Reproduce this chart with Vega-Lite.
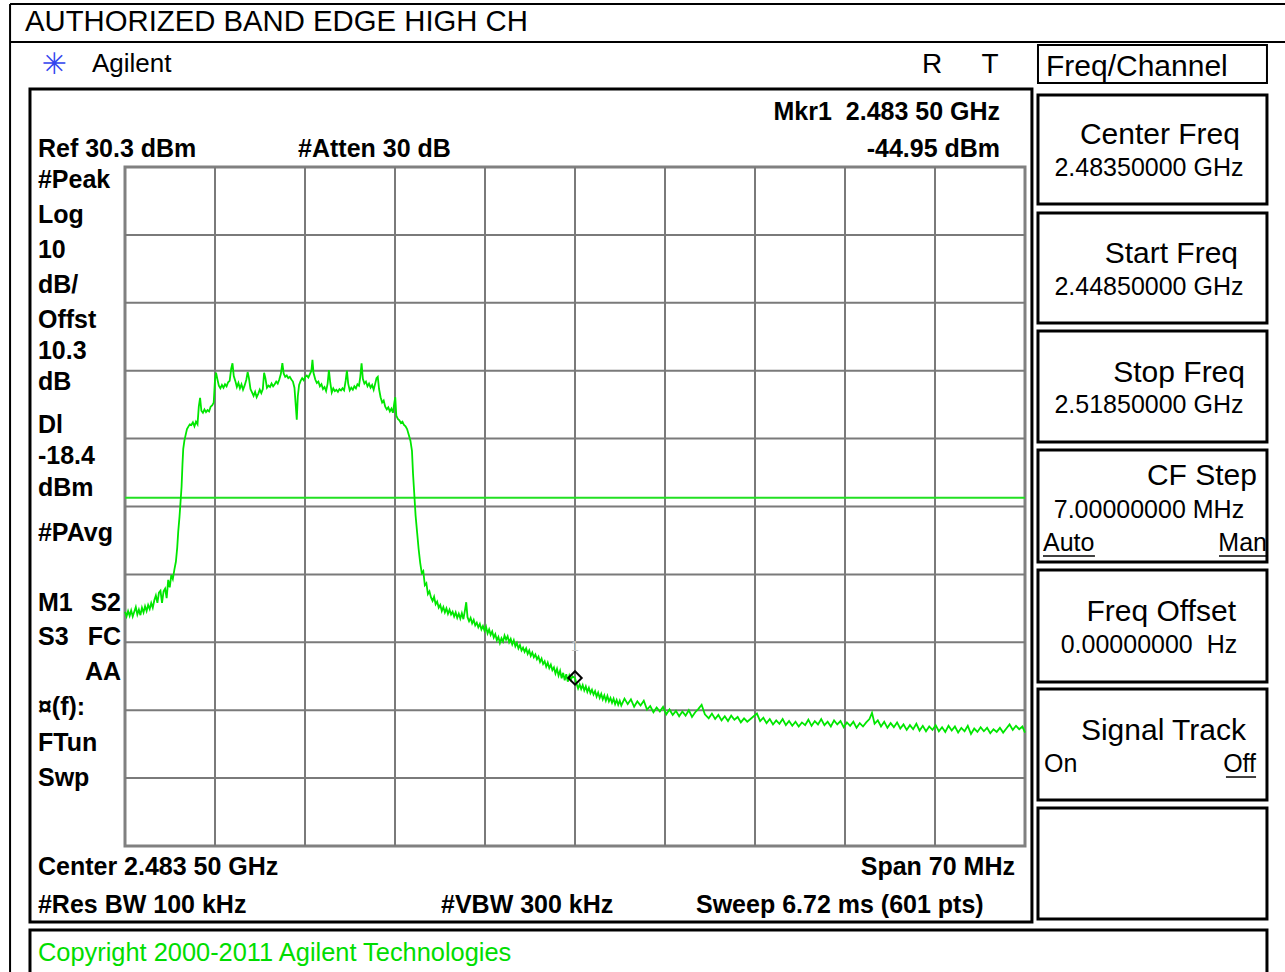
{
  "$schema": "https://vega.github.io/schema/vega-lite/v6.json",
  "width": 900,
  "height": 679,
  "autosize": {"type": "none"},
  "padding": {"left": 125, "top": 167, "right": 260, "bottom": 126},
  "background": "white",
  "config": {"font": "Liberation Sans", "view": {"stroke": "#808080", "strokeWidth": 3}},
  "datasets": {
    "trace": [
      {"freq_mhz": 2448.5, "level_dbm": -35.2}, {"freq_mhz": 2448.62, "level_dbm": -35.9}, {"freq_mhz": 2448.74, "level_dbm": -35.1}, {"freq_mhz": 2448.86, "level_dbm": -35.8},
      {"freq_mhz": 2448.98, "level_dbm": -35.0}, {"freq_mhz": 2449.1, "level_dbm": -35.9}, {"freq_mhz": 2449.22, "level_dbm": -35.2}, {"freq_mhz": 2449.34, "level_dbm": -34.5},
      {"freq_mhz": 2449.46, "level_dbm": -35.6}, {"freq_mhz": 2449.58, "level_dbm": -34.9}, {"freq_mhz": 2449.7, "level_dbm": -35.7}, {"freq_mhz": 2449.82, "level_dbm": -34.6},
      {"freq_mhz": 2449.94, "level_dbm": -35.3}, {"freq_mhz": 2450.06, "level_dbm": -34.4}, {"freq_mhz": 2450.18, "level_dbm": -35.1}, {"freq_mhz": 2450.3, "level_dbm": -34.2},
      {"freq_mhz": 2450.42, "level_dbm": -34.8}, {"freq_mhz": 2450.54, "level_dbm": -33.9}, {"freq_mhz": 2450.66, "level_dbm": -34.6}, {"freq_mhz": 2450.78, "level_dbm": -33.5},
      {"freq_mhz": 2450.9, "level_dbm": -32.8}, {"freq_mhz": 2451.02, "level_dbm": -33.9}, {"freq_mhz": 2451.14, "level_dbm": -32.4}, {"freq_mhz": 2451.26, "level_dbm": -32.1},
      {"freq_mhz": 2451.38, "level_dbm": -33.9}, {"freq_mhz": 2451.5, "level_dbm": -32.2}, {"freq_mhz": 2451.62, "level_dbm": -31.8}, {"freq_mhz": 2451.74, "level_dbm": -33.2},
      {"freq_mhz": 2451.86, "level_dbm": -30.5}, {"freq_mhz": 2451.98, "level_dbm": -31.6}, {"freq_mhz": 2452.1, "level_dbm": -29.8}, {"freq_mhz": 2452.22, "level_dbm": -30.4},
      {"freq_mhz": 2452.34, "level_dbm": -29.0}, {"freq_mhz": 2452.46, "level_dbm": -27.8}, {"freq_mhz": 2452.56, "level_dbm": -25.8}, {"freq_mhz": 2452.64, "level_dbm": -23.4},
      {"freq_mhz": 2452.74, "level_dbm": -21.2}, {"freq_mhz": 2452.82, "level_dbm": -19.0}, {"freq_mhz": 2452.9, "level_dbm": -16.8}, {"freq_mhz": 2452.97, "level_dbm": -13.5},
      {"freq_mhz": 2453.03, "level_dbm": -11.2}, {"freq_mhz": 2453.12, "level_dbm": -10.0}, {"freq_mhz": 2453.2, "level_dbm": -9.3}, {"freq_mhz": 2453.32, "level_dbm": -8.3},
      {"freq_mhz": 2453.44, "level_dbm": -7.9}, {"freq_mhz": 2453.54, "level_dbm": -7.6}, {"freq_mhz": 2453.66, "level_dbm": -7.7}, {"freq_mhz": 2453.78, "level_dbm": -7.3},
      {"freq_mhz": 2453.9, "level_dbm": -7.9}, {"freq_mhz": 2454.02, "level_dbm": -7.2}, {"freq_mhz": 2454.14, "level_dbm": -7.6}, {"freq_mhz": 2454.24, "level_dbm": -5.0},
      {"freq_mhz": 2454.34, "level_dbm": -3.7}, {"freq_mhz": 2454.44, "level_dbm": -5.6}, {"freq_mhz": 2454.56, "level_dbm": -5.9}, {"freq_mhz": 2454.68, "level_dbm": -5.4},
      {"freq_mhz": 2454.8, "level_dbm": -5.8}, {"freq_mhz": 2454.92, "level_dbm": -5.5}, {"freq_mhz": 2455.04, "level_dbm": -5.7}, {"freq_mhz": 2455.16, "level_dbm": -5.0},
      {"freq_mhz": 2455.28, "level_dbm": -4.8}, {"freq_mhz": 2455.4, "level_dbm": -4.4}, {"freq_mhz": 2455.5, "level_dbm": -1.0}, {"freq_mhz": 2455.58, "level_dbm": 0.0},
      {"freq_mhz": 2455.68, "level_dbm": -0.9}, {"freq_mhz": 2455.8, "level_dbm": -1.9}, {"freq_mhz": 2455.92, "level_dbm": -2.3}, {"freq_mhz": 2456.04, "level_dbm": -1.8},
      {"freq_mhz": 2456.16, "level_dbm": -2.2}, {"freq_mhz": 2456.28, "level_dbm": -1.7}, {"freq_mhz": 2456.4, "level_dbm": -2.0}, {"freq_mhz": 2456.52, "level_dbm": -1.4},
      {"freq_mhz": 2456.64, "level_dbm": -1.2}, {"freq_mhz": 2456.76, "level_dbm": 0.6}, {"freq_mhz": 2456.86, "level_dbm": 1.4}, {"freq_mhz": 2456.96, "level_dbm": -0.5},
      {"freq_mhz": 2457.08, "level_dbm": -1.2}, {"freq_mhz": 2457.2, "level_dbm": -2.1}, {"freq_mhz": 2457.32, "level_dbm": -1.5}, {"freq_mhz": 2457.44, "level_dbm": -2.3},
      {"freq_mhz": 2457.56, "level_dbm": -1.7}, {"freq_mhz": 2457.68, "level_dbm": -2.5}, {"freq_mhz": 2457.8, "level_dbm": -1.9}, {"freq_mhz": 2457.94, "level_dbm": -1.0},
      {"freq_mhz": 2458.04, "level_dbm": 0.1}, {"freq_mhz": 2458.14, "level_dbm": -0.8}, {"freq_mhz": 2458.26, "level_dbm": -2.4}, {"freq_mhz": 2458.38, "level_dbm": -2.9},
      {"freq_mhz": 2458.5, "level_dbm": -3.4}, {"freq_mhz": 2458.62, "level_dbm": -2.8}, {"freq_mhz": 2458.74, "level_dbm": -3.6}, {"freq_mhz": 2458.86, "level_dbm": -3.1},
      {"freq_mhz": 2458.98, "level_dbm": -2.5}, {"freq_mhz": 2459.1, "level_dbm": -3.0}, {"freq_mhz": 2459.22, "level_dbm": -2.4}, {"freq_mhz": 2459.32, "level_dbm": 0.0},
      {"freq_mhz": 2459.42, "level_dbm": -0.8}, {"freq_mhz": 2459.54, "level_dbm": -2.2}, {"freq_mhz": 2459.66, "level_dbm": -1.9}, {"freq_mhz": 2459.78, "level_dbm": -2.1},
      {"freq_mhz": 2459.9, "level_dbm": -1.6}, {"freq_mhz": 2460.02, "level_dbm": -2.0}, {"freq_mhz": 2460.14, "level_dbm": -1.7}, {"freq_mhz": 2460.26, "level_dbm": -1.3},
      {"freq_mhz": 2460.38, "level_dbm": -1.6}, {"freq_mhz": 2460.5, "level_dbm": -1.0}, {"freq_mhz": 2460.62, "level_dbm": -0.2}, {"freq_mhz": 2460.74, "level_dbm": 1.4},
      {"freq_mhz": 2460.84, "level_dbm": -0.1}, {"freq_mhz": 2460.96, "level_dbm": -0.6}, {"freq_mhz": 2461.08, "level_dbm": -0.4}, {"freq_mhz": 2461.2, "level_dbm": -0.8},
      {"freq_mhz": 2461.32, "level_dbm": -0.6}, {"freq_mhz": 2461.44, "level_dbm": -1.0}, {"freq_mhz": 2461.56, "level_dbm": -1.3}, {"freq_mhz": 2461.68, "level_dbm": -2.2},
      {"freq_mhz": 2461.78, "level_dbm": -4.8}, {"freq_mhz": 2461.86, "level_dbm": -6.9}, {"freq_mhz": 2461.94, "level_dbm": -3.5}, {"freq_mhz": 2462.04, "level_dbm": -1.8},
      {"freq_mhz": 2462.16, "level_dbm": -1.2}, {"freq_mhz": 2462.28, "level_dbm": -0.8}, {"freq_mhz": 2462.4, "level_dbm": -1.1}, {"freq_mhz": 2462.52, "level_dbm": -0.6},
      {"freq_mhz": 2462.64, "level_dbm": -0.4}, {"freq_mhz": 2462.76, "level_dbm": -0.7}, {"freq_mhz": 2462.88, "level_dbm": -0.2}, {"freq_mhz": 2463.0, "level_dbm": 0.3},
      {"freq_mhz": 2463.08, "level_dbm": 1.9}, {"freq_mhz": 2463.16, "level_dbm": 0.0}, {"freq_mhz": 2463.3, "level_dbm": -1.0}, {"freq_mhz": 2463.42, "level_dbm": -1.5},
      {"freq_mhz": 2463.54, "level_dbm": -1.3}, {"freq_mhz": 2463.66, "level_dbm": -2.0}, {"freq_mhz": 2463.78, "level_dbm": -1.7}, {"freq_mhz": 2463.9, "level_dbm": -2.4},
      {"freq_mhz": 2464.02, "level_dbm": -2.1}, {"freq_mhz": 2464.14, "level_dbm": -2.7}, {"freq_mhz": 2464.26, "level_dbm": -1.6}, {"freq_mhz": 2464.36, "level_dbm": 0.4},
      {"freq_mhz": 2464.46, "level_dbm": -1.4}, {"freq_mhz": 2464.58, "level_dbm": -2.9}, {"freq_mhz": 2464.7, "level_dbm": -2.3}, {"freq_mhz": 2464.82, "level_dbm": -2.7},
      {"freq_mhz": 2464.94, "level_dbm": -2.5}, {"freq_mhz": 2465.06, "level_dbm": -2.8}, {"freq_mhz": 2465.18, "level_dbm": -2.4}, {"freq_mhz": 2465.3, "level_dbm": -2.6},
      {"freq_mhz": 2465.42, "level_dbm": -2.3}, {"freq_mhz": 2465.54, "level_dbm": -2.6}, {"freq_mhz": 2465.66, "level_dbm": -1.2}, {"freq_mhz": 2465.76, "level_dbm": 0.3},
      {"freq_mhz": 2465.86, "level_dbm": -1.6}, {"freq_mhz": 2465.98, "level_dbm": -2.6}, {"freq_mhz": 2466.1, "level_dbm": -2.2}, {"freq_mhz": 2466.22, "level_dbm": -2.5},
      {"freq_mhz": 2466.34, "level_dbm": -2.0}, {"freq_mhz": 2466.46, "level_dbm": -2.3}, {"freq_mhz": 2466.58, "level_dbm": -1.7}, {"freq_mhz": 2466.7, "level_dbm": -1.9},
      {"freq_mhz": 2466.8, "level_dbm": -0.6}, {"freq_mhz": 2466.9, "level_dbm": 1.4}, {"freq_mhz": 2467.0, "level_dbm": -0.9}, {"freq_mhz": 2467.12, "level_dbm": -1.6},
      {"freq_mhz": 2467.24, "level_dbm": -1.3}, {"freq_mhz": 2467.36, "level_dbm": -2.0}, {"freq_mhz": 2467.48, "level_dbm": -1.6}, {"freq_mhz": 2467.6, "level_dbm": -2.2},
      {"freq_mhz": 2467.72, "level_dbm": -1.8}, {"freq_mhz": 2467.84, "level_dbm": -2.5}, {"freq_mhz": 2467.96, "level_dbm": -1.6}, {"freq_mhz": 2468.06, "level_dbm": -0.8},
      {"freq_mhz": 2468.16, "level_dbm": -0.6}, {"freq_mhz": 2468.26, "level_dbm": -2.4}, {"freq_mhz": 2468.38, "level_dbm": -3.6}, {"freq_mhz": 2468.5, "level_dbm": -4.4},
      {"freq_mhz": 2468.62, "level_dbm": -4.1}, {"freq_mhz": 2468.74, "level_dbm": -5.0}, {"freq_mhz": 2468.86, "level_dbm": -5.4}, {"freq_mhz": 2468.98, "level_dbm": -5.1},
      {"freq_mhz": 2469.1, "level_dbm": -5.7}, {"freq_mhz": 2469.22, "level_dbm": -5.3}, {"freq_mhz": 2469.34, "level_dbm": -5.9}, {"freq_mhz": 2469.44, "level_dbm": -4.5},
      {"freq_mhz": 2469.52, "level_dbm": -3.6}, {"freq_mhz": 2469.6, "level_dbm": -6.3}, {"freq_mhz": 2469.72, "level_dbm": -6.8}, {"freq_mhz": 2469.84, "level_dbm": -7.0},
      {"freq_mhz": 2469.96, "level_dbm": -7.4}, {"freq_mhz": 2470.08, "level_dbm": -7.2}, {"freq_mhz": 2470.2, "level_dbm": -7.7}, {"freq_mhz": 2470.32, "level_dbm": -7.9},
      {"freq_mhz": 2470.44, "level_dbm": -8.3}, {"freq_mhz": 2470.58, "level_dbm": -9.2}, {"freq_mhz": 2470.7, "level_dbm": -10.0}, {"freq_mhz": 2470.82, "level_dbm": -11.5},
      {"freq_mhz": 2470.9, "level_dbm": -14.8}, {"freq_mhz": 2471.02, "level_dbm": -18.5}, {"freq_mhz": 2471.1, "level_dbm": -21.0}, {"freq_mhz": 2471.22, "level_dbm": -23.5},
      {"freq_mhz": 2471.34, "level_dbm": -26.0}, {"freq_mhz": 2471.46, "level_dbm": -28.0}, {"freq_mhz": 2471.58, "level_dbm": -29.5}, {"freq_mhz": 2471.7, "level_dbm": -29.2},
      {"freq_mhz": 2471.82, "level_dbm": -31.3}, {"freq_mhz": 2471.94, "level_dbm": -31.0}, {"freq_mhz": 2472.06, "level_dbm": -32.6}, {"freq_mhz": 2472.18, "level_dbm": -32.2},
      {"freq_mhz": 2472.3, "level_dbm": -33.1}, {"freq_mhz": 2472.42, "level_dbm": -33.6}, {"freq_mhz": 2472.54, "level_dbm": -33.0}, {"freq_mhz": 2472.66, "level_dbm": -34.1},
      {"freq_mhz": 2472.78, "level_dbm": -33.7}, {"freq_mhz": 2472.9, "level_dbm": -34.6}, {"freq_mhz": 2473.02, "level_dbm": -34.2}, {"freq_mhz": 2473.14, "level_dbm": -35.1},
      {"freq_mhz": 2473.26, "level_dbm": -34.5}, {"freq_mhz": 2473.38, "level_dbm": -35.3}, {"freq_mhz": 2473.5, "level_dbm": -34.7}, {"freq_mhz": 2473.62, "level_dbm": -35.5},
      {"freq_mhz": 2473.74, "level_dbm": -34.9}, {"freq_mhz": 2473.86, "level_dbm": -35.6}, {"freq_mhz": 2473.98, "level_dbm": -35.2}, {"freq_mhz": 2474.1, "level_dbm": -35.9},
      {"freq_mhz": 2474.22, "level_dbm": -35.3}, {"freq_mhz": 2474.34, "level_dbm": -36.1}, {"freq_mhz": 2474.46, "level_dbm": -35.5}, {"freq_mhz": 2474.58, "level_dbm": -36.2},
      {"freq_mhz": 2474.7, "level_dbm": -35.4}, {"freq_mhz": 2474.82, "level_dbm": -36.3}, {"freq_mhz": 2474.94, "level_dbm": -35.0}, {"freq_mhz": 2475.04, "level_dbm": -33.8},
      {"freq_mhz": 2475.14, "level_dbm": -36.0}, {"freq_mhz": 2475.26, "level_dbm": -36.6}, {"freq_mhz": 2475.38, "level_dbm": -36.1}, {"freq_mhz": 2475.5, "level_dbm": -36.9},
      {"freq_mhz": 2475.62, "level_dbm": -36.4}, {"freq_mhz": 2475.74, "level_dbm": -37.2}, {"freq_mhz": 2475.86, "level_dbm": -36.8}, {"freq_mhz": 2475.98, "level_dbm": -37.5},
      {"freq_mhz": 2476.1, "level_dbm": -37.0}, {"freq_mhz": 2476.22, "level_dbm": -37.8}, {"freq_mhz": 2476.34, "level_dbm": -37.3}, {"freq_mhz": 2476.46, "level_dbm": -38.0},
      {"freq_mhz": 2476.58, "level_dbm": -37.4}, {"freq_mhz": 2476.7, "level_dbm": -38.4}, {"freq_mhz": 2476.82, "level_dbm": -37.8}, {"freq_mhz": 2476.94, "level_dbm": -38.6},
      {"freq_mhz": 2477.06, "level_dbm": -38.1}, {"freq_mhz": 2477.18, "level_dbm": -39.0}, {"freq_mhz": 2477.3, "level_dbm": -38.5}, {"freq_mhz": 2477.42, "level_dbm": -39.4},
      {"freq_mhz": 2477.54, "level_dbm": -38.9}, {"freq_mhz": 2477.66, "level_dbm": -39.8}, {"freq_mhz": 2477.78, "level_dbm": -39.1}, {"freq_mhz": 2477.9, "level_dbm": -39.6},
      {"freq_mhz": 2478.02, "level_dbm": -38.7}, {"freq_mhz": 2478.14, "level_dbm": -39.3}, {"freq_mhz": 2478.26, "level_dbm": -38.8}, {"freq_mhz": 2478.38, "level_dbm": -39.7},
      {"freq_mhz": 2478.5, "level_dbm": -39.2}, {"freq_mhz": 2478.62, "level_dbm": -40.0}, {"freq_mhz": 2478.74, "level_dbm": -39.4}, {"freq_mhz": 2478.86, "level_dbm": -40.3},
      {"freq_mhz": 2478.98, "level_dbm": -39.8}, {"freq_mhz": 2479.1, "level_dbm": -40.6}, {"freq_mhz": 2479.22, "level_dbm": -40.1}, {"freq_mhz": 2479.34, "level_dbm": -40.9},
      {"freq_mhz": 2479.46, "level_dbm": -40.5}, {"freq_mhz": 2479.58, "level_dbm": -41.1}, {"freq_mhz": 2479.7, "level_dbm": -40.6}, {"freq_mhz": 2479.82, "level_dbm": -41.4},
      {"freq_mhz": 2479.94, "level_dbm": -40.9}, {"freq_mhz": 2480.06, "level_dbm": -41.7}, {"freq_mhz": 2480.18, "level_dbm": -41.2}, {"freq_mhz": 2480.3, "level_dbm": -41.9},
      {"freq_mhz": 2480.42, "level_dbm": -41.5}, {"freq_mhz": 2480.54, "level_dbm": -42.2}, {"freq_mhz": 2480.66, "level_dbm": -41.8}, {"freq_mhz": 2480.78, "level_dbm": -42.6},
      {"freq_mhz": 2480.9, "level_dbm": -42.1}, {"freq_mhz": 2481.02, "level_dbm": -42.9}, {"freq_mhz": 2481.14, "level_dbm": -42.5}, {"freq_mhz": 2481.26, "level_dbm": -43.3},
      {"freq_mhz": 2481.38, "level_dbm": -42.7}, {"freq_mhz": 2481.5, "level_dbm": -43.5}, {"freq_mhz": 2481.62, "level_dbm": -43.0}, {"freq_mhz": 2481.74, "level_dbm": -43.8},
      {"freq_mhz": 2481.86, "level_dbm": -43.4}, {"freq_mhz": 2481.98, "level_dbm": -44.3}, {"freq_mhz": 2482.1, "level_dbm": -43.6}, {"freq_mhz": 2482.22, "level_dbm": -44.6},
      {"freq_mhz": 2482.34, "level_dbm": -43.9}, {"freq_mhz": 2482.46, "level_dbm": -45.0}, {"freq_mhz": 2482.58, "level_dbm": -44.2}, {"freq_mhz": 2482.7, "level_dbm": -45.3},
      {"freq_mhz": 2482.82, "level_dbm": -44.4}, {"freq_mhz": 2482.94, "level_dbm": -45.5}, {"freq_mhz": 2483.06, "level_dbm": -44.6}, {"freq_mhz": 2483.18, "level_dbm": -45.2},
      {"freq_mhz": 2483.3, "level_dbm": -44.7}, {"freq_mhz": 2483.5, "level_dbm": -44.95}, {"freq_mhz": 2483.62, "level_dbm": -45.8}, {"freq_mhz": 2483.74, "level_dbm": -46.5},
      {"freq_mhz": 2483.86, "level_dbm": -45.9}, {"freq_mhz": 2483.98, "level_dbm": -46.6}, {"freq_mhz": 2484.1, "level_dbm": -46.0}, {"freq_mhz": 2484.22, "level_dbm": -46.8},
      {"freq_mhz": 2484.34, "level_dbm": -46.2}, {"freq_mhz": 2484.46, "level_dbm": -47.0}, {"freq_mhz": 2484.58, "level_dbm": -46.4}, {"freq_mhz": 2484.7, "level_dbm": -47.2},
      {"freq_mhz": 2484.82, "level_dbm": -46.7}, {"freq_mhz": 2484.94, "level_dbm": -47.4}, {"freq_mhz": 2485.06, "level_dbm": -46.9}, {"freq_mhz": 2485.18, "level_dbm": -47.7},
      {"freq_mhz": 2485.3, "level_dbm": -47.1}, {"freq_mhz": 2485.42, "level_dbm": -47.9}, {"freq_mhz": 2485.54, "level_dbm": -47.3}, {"freq_mhz": 2485.66, "level_dbm": -48.1},
      {"freq_mhz": 2485.78, "level_dbm": -47.5}, {"freq_mhz": 2485.9, "level_dbm": -48.3}, {"freq_mhz": 2486.02, "level_dbm": -47.6}, {"freq_mhz": 2486.14, "level_dbm": -48.4},
      {"freq_mhz": 2486.26, "level_dbm": -47.9}, {"freq_mhz": 2486.38, "level_dbm": -48.6}, {"freq_mhz": 2486.5, "level_dbm": -48.0}, {"freq_mhz": 2486.62, "level_dbm": -48.8},
      {"freq_mhz": 2486.74, "level_dbm": -48.2}, {"freq_mhz": 2486.86, "level_dbm": -48.9}, {"freq_mhz": 2486.98, "level_dbm": -48.3}, {"freq_mhz": 2487.1, "level_dbm": -49.0},
      {"freq_mhz": 2487.35, "level_dbm": -48.0}, {"freq_mhz": 2487.6, "level_dbm": -48.8}, {"freq_mhz": 2487.85, "level_dbm": -48.1}, {"freq_mhz": 2488.1, "level_dbm": -49.2},
      {"freq_mhz": 2488.35, "level_dbm": -48.4}, {"freq_mhz": 2488.6, "level_dbm": -49.0}, {"freq_mhz": 2488.85, "level_dbm": -48.3}, {"freq_mhz": 2489.1, "level_dbm": -49.6},
      {"freq_mhz": 2489.35, "level_dbm": -49.1}, {"freq_mhz": 2489.6, "level_dbm": -50.0}, {"freq_mhz": 2489.85, "level_dbm": -49.3}, {"freq_mhz": 2490.1, "level_dbm": -49.9},
      {"freq_mhz": 2490.35, "level_dbm": -49.2}, {"freq_mhz": 2490.6, "level_dbm": -50.3}, {"freq_mhz": 2490.85, "level_dbm": -49.6}, {"freq_mhz": 2491.1, "level_dbm": -50.4},
      {"freq_mhz": 2491.35, "level_dbm": -49.8}, {"freq_mhz": 2491.6, "level_dbm": -50.6}, {"freq_mhz": 2491.85, "level_dbm": -49.9}, {"freq_mhz": 2492.1, "level_dbm": -50.5},
      {"freq_mhz": 2492.35, "level_dbm": -49.7}, {"freq_mhz": 2492.6, "level_dbm": -50.7}, {"freq_mhz": 2492.85, "level_dbm": -50.0}, {"freq_mhz": 2493.1, "level_dbm": -49.5},
      {"freq_mhz": 2493.35, "level_dbm": -48.9}, {"freq_mhz": 2493.6, "level_dbm": -50.3}, {"freq_mhz": 2493.9, "level_dbm": -50.9}, {"freq_mhz": 2494.15, "level_dbm": -50.2},
      {"freq_mhz": 2494.4, "level_dbm": -51.0}, {"freq_mhz": 2494.65, "level_dbm": -50.4}, {"freq_mhz": 2494.9, "level_dbm": -51.2}, {"freq_mhz": 2495.15, "level_dbm": -50.6},
      {"freq_mhz": 2495.4, "level_dbm": -51.3}, {"freq_mhz": 2495.65, "level_dbm": -50.5}, {"freq_mhz": 2495.9, "level_dbm": -51.1}, {"freq_mhz": 2496.15, "level_dbm": -50.7},
      {"freq_mhz": 2496.4, "level_dbm": -51.5}, {"freq_mhz": 2496.65, "level_dbm": -50.9}, {"freq_mhz": 2496.9, "level_dbm": -51.4}, {"freq_mhz": 2497.15, "level_dbm": -51.0},
      {"freq_mhz": 2497.4, "level_dbm": -50.6}, {"freq_mhz": 2497.65, "level_dbm": -50.2}, {"freq_mhz": 2497.9, "level_dbm": -51.3}, {"freq_mhz": 2498.15, "level_dbm": -50.8},
      {"freq_mhz": 2498.4, "level_dbm": -51.6}, {"freq_mhz": 2498.65, "level_dbm": -51.0}, {"freq_mhz": 2498.9, "level_dbm": -51.8}, {"freq_mhz": 2499.15, "level_dbm": -51.2},
      {"freq_mhz": 2499.4, "level_dbm": -51.7}, {"freq_mhz": 2499.65, "level_dbm": -51.0}, {"freq_mhz": 2499.9, "level_dbm": -51.9}, {"freq_mhz": 2500.15, "level_dbm": -51.3},
      {"freq_mhz": 2500.4, "level_dbm": -52.0}, {"freq_mhz": 2500.65, "level_dbm": -51.4}, {"freq_mhz": 2500.9, "level_dbm": -52.1}, {"freq_mhz": 2501.15, "level_dbm": -51.5},
      {"freq_mhz": 2501.4, "level_dbm": -51.9}, {"freq_mhz": 2501.65, "level_dbm": -51.1}, {"freq_mhz": 2501.9, "level_dbm": -52.0}, {"freq_mhz": 2502.15, "level_dbm": -51.3},
      {"freq_mhz": 2502.4, "level_dbm": -51.8}, {"freq_mhz": 2502.65, "level_dbm": -51.0}, {"freq_mhz": 2502.9, "level_dbm": -51.9}, {"freq_mhz": 2503.15, "level_dbm": -51.4},
      {"freq_mhz": 2503.4, "level_dbm": -52.1}, {"freq_mhz": 2503.65, "level_dbm": -51.2}, {"freq_mhz": 2503.9, "level_dbm": -51.8}, {"freq_mhz": 2504.15, "level_dbm": -51.3},
      {"freq_mhz": 2504.4, "level_dbm": -52.2}, {"freq_mhz": 2504.65, "level_dbm": -51.5}, {"freq_mhz": 2504.9, "level_dbm": -52.0}, {"freq_mhz": 2505.15, "level_dbm": -51.4},
      {"freq_mhz": 2505.4, "level_dbm": -52.3}, {"freq_mhz": 2505.65, "level_dbm": -51.6}, {"freq_mhz": 2505.9, "level_dbm": -52.1}, {"freq_mhz": 2506.15, "level_dbm": -51.5},
      {"freq_mhz": 2506.4, "level_dbm": -51.0}, {"freq_mhz": 2506.6, "level_dbm": -50.1}, {"freq_mhz": 2506.8, "level_dbm": -51.7}, {"freq_mhz": 2507.05, "level_dbm": -51.2},
      {"freq_mhz": 2507.3, "level_dbm": -52.1}, {"freq_mhz": 2507.55, "level_dbm": -51.4}, {"freq_mhz": 2507.8, "level_dbm": -52.3}, {"freq_mhz": 2508.05, "level_dbm": -51.6},
      {"freq_mhz": 2508.3, "level_dbm": -52.2}, {"freq_mhz": 2508.55, "level_dbm": -51.5}, {"freq_mhz": 2508.8, "level_dbm": -52.4}, {"freq_mhz": 2509.05, "level_dbm": -51.8},
      {"freq_mhz": 2509.3, "level_dbm": -52.6}, {"freq_mhz": 2509.55, "level_dbm": -51.9}, {"freq_mhz": 2509.8, "level_dbm": -52.5}, {"freq_mhz": 2510.05, "level_dbm": -51.7},
      {"freq_mhz": 2510.3, "level_dbm": -52.7}, {"freq_mhz": 2510.55, "level_dbm": -52.0}, {"freq_mhz": 2510.8, "level_dbm": -52.8}, {"freq_mhz": 2511.05, "level_dbm": -52.1},
      {"freq_mhz": 2511.3, "level_dbm": -52.6}, {"freq_mhz": 2511.55, "level_dbm": -51.9}, {"freq_mhz": 2511.8, "level_dbm": -52.8}, {"freq_mhz": 2512.05, "level_dbm": -52.2},
      {"freq_mhz": 2512.3, "level_dbm": -52.9}, {"freq_mhz": 2512.55, "level_dbm": -52.0}, {"freq_mhz": 2512.8, "level_dbm": -52.7}, {"freq_mhz": 2513.05, "level_dbm": -52.1},
      {"freq_mhz": 2513.3, "level_dbm": -53.0}, {"freq_mhz": 2513.55, "level_dbm": -52.3}, {"freq_mhz": 2513.8, "level_dbm": -52.8}, {"freq_mhz": 2514.05, "level_dbm": -52.0},
      {"freq_mhz": 2514.3, "level_dbm": -53.2}, {"freq_mhz": 2514.55, "level_dbm": -52.4}, {"freq_mhz": 2514.8, "level_dbm": -52.9}, {"freq_mhz": 2515.05, "level_dbm": -52.2},
      {"freq_mhz": 2515.3, "level_dbm": -52.8}, {"freq_mhz": 2515.55, "level_dbm": -52.3}, {"freq_mhz": 2515.8, "level_dbm": -53.1}, {"freq_mhz": 2516.05, "level_dbm": -52.5},
      {"freq_mhz": 2516.3, "level_dbm": -52.9}, {"freq_mhz": 2516.55, "level_dbm": -52.3}, {"freq_mhz": 2516.8, "level_dbm": -53.0}, {"freq_mhz": 2517.05, "level_dbm": -52.4},
      {"freq_mhz": 2517.3, "level_dbm": -51.8}, {"freq_mhz": 2517.55, "level_dbm": -52.6}, {"freq_mhz": 2517.8, "level_dbm": -52.0}, {"freq_mhz": 2518.05, "level_dbm": -52.5},
      {"freq_mhz": 2518.3, "level_dbm": -52.1}, {"freq_mhz": 2518.5, "level_dbm": -53.0}
    ],
    "graticule_freq": [
      {"freq_mhz": 2455.5}, {"freq_mhz": 2462.5}, {"freq_mhz": 2469.5}, {"freq_mhz": 2476.5}, {"freq_mhz": 2483.5},
      {"freq_mhz": 2490.5}, {"freq_mhz": 2497.5}, {"freq_mhz": 2504.5}, {"freq_mhz": 2511.5}
    ],
    "graticule_level": [
      {"level_dbm": 20.3}, {"level_dbm": 10.3}, {"level_dbm": 0.3}, {"level_dbm": -9.7}, {"level_dbm": -19.7},
      {"level_dbm": -29.7}, {"level_dbm": -39.7}, {"level_dbm": -49.7}, {"level_dbm": -59.7}
    ],
    "display_line": [{"level_dbm": -18.4}],
    "marker": [{"freq_mhz": 2483.5, "level_dbm": -44.95, "label": "1"}],
    "boxes": [
      {"group": "thick", "f1": 2441.11, "f2": 2519.04, "l1": 41.79, "l2": -80.89},
      {"group": "thick", "f1": 2441.11, "f2": 2537.32, "l1": -82.07, "l2": -90.0},
      {"group": "thick", "f1": 2519.51, "f2": 2537.32, "l1": 40.9, "l2": 24.85},
      {"group": "thick", "f1": 2519.51, "f2": 2537.32, "l1": 23.53, "l2": 7.33},
      {"group": "thick", "f1": 2519.51, "f2": 2537.32, "l1": 6.15, "l2": -10.2},
      {"group": "thick", "f1": 2519.51, "f2": 2537.32, "l1": -11.38, "l2": -27.87},
      {"group": "thick", "f1": 2519.51, "f2": 2537.32, "l1": -29.05, "l2": -45.55},
      {"group": "thick", "f1": 2519.51, "f2": 2537.32, "l1": -46.58, "l2": -62.93},
      {"group": "thick", "f1": 2519.51, "f2": 2537.32, "l1": -64.1, "l2": -80.45},
      {"group": "thin", "f1": 2519.51, "f2": 2537.32, "l1": 48.27, "l2": 42.67}
    ],
    "lines": [
      {"group": "frame", "f1": 2439.56, "f2": 2540.0, "l1": 54.31, "l2": 54.31},
      {"group": "frame", "f1": 2439.56, "f2": 2540.0, "l1": 48.71, "l2": 48.71},
      {"group": "frame", "f1": 2439.56, "f2": 2439.56, "l1": 54.31, "l2": -90.0},
      {"group": "underline", "f1": 2519.9, "f2": 2523.94, "l1": -26.99, "l2": -26.99},
      {"group": "underline", "f1": 2533.59, "f2": 2537.32, "l1": -26.99, "l2": -26.99},
      {"group": "underline", "f1": 2534.13, "f2": 2536.47, "l1": -59.54, "l2": -59.54}
    ],
    "texts": [
      {"group": "title", "label": "AUTHORIZED BAND EDGE HIGH CH", "f": 2440.72, "l": 51.65},
      {"group": "brand", "label": "Agilent", "f": 2445.93, "l": 45.47},
      {"group": "logo", "label": "✳", "f": 2442.98, "l": 45.32},
      {"group": "rt", "label": "R", "f": 2511.27, "l": 45.32},
      {"group": "rt", "label": "T", "f": 2515.78, "l": 45.32},
      {"group": "boldR", "label": "Mkr1\u00a0 2.483 50 GHz", "f": 2516.56, "l": 38.4},
      {"group": "boldR", "label": "-44.95 dBm", "f": 2516.56, "l": 32.95},
      {"group": "boldL", "label": "Ref 30.3 dBm", "f": 2441.73, "l": 32.95},
      {"group": "boldL", "label": "#Atten 30 dB", "f": 2461.96, "l": 32.95},
      {"group": "boldL", "label": "#Peak", "f": 2441.73, "l": 28.39},
      {"group": "boldL", "label": "Log", "f": 2441.73, "l": 23.23},
      {"group": "boldL", "label": "10", "f": 2441.73, "l": 18.08},
      {"group": "boldL", "label": "dB/", "f": 2441.73, "l": 12.92},
      {"group": "boldL", "label": "Offst", "f": 2441.73, "l": 7.77},
      {"group": "boldL", "label": "10.3", "f": 2441.73, "l": 3.2},
      {"group": "boldL", "label": "dB", "f": 2441.73, "l": -1.36},
      {"group": "boldL", "label": "Dl", "f": 2441.73, "l": -7.7},
      {"group": "boldL", "label": "-18.4", "f": 2441.73, "l": -12.26},
      {"group": "boldL", "label": "dBm", "f": 2441.73, "l": -16.98},
      {"group": "boldL", "label": "#PAvg", "f": 2441.73, "l": -23.6},
      {"group": "boldL", "label": "M1", "f": 2441.73, "l": -33.91},
      {"group": "boldR", "label": "S2", "f": 2448.19, "l": -33.91},
      {"group": "boldL", "label": "S3", "f": 2441.73, "l": -38.92},
      {"group": "boldR", "label": "FC", "f": 2448.19, "l": -38.92},
      {"group": "boldR", "label": "AA", "f": 2448.19, "l": -44.07},
      {"group": "boldL", "label": "¤(f):", "f": 2441.73, "l": -49.23},
      {"group": "boldL", "label": "FTun", "f": 2441.73, "l": -54.53},
      {"group": "boldL", "label": "Swp", "f": 2441.73, "l": -59.69},
      {"group": "boldL", "label": "Center 2.483 50 GHz", "f": 2441.73, "l": -72.79},
      {"group": "boldR", "label": "Span 70 MHz", "f": 2517.72, "l": -72.79},
      {"group": "boldL", "label": "#Res BW 100 kHz", "f": 2441.73, "l": -78.39},
      {"group": "boldL", "label": "#VBW 300 kHz", "f": 2473.08, "l": -78.39},
      {"group": "boldL", "label": "Sweep 6.72 ms (601 pts)", "f": 2492.91, "l": -78.39},
      {"group": "copyright", "label": "Copyright 2000-2011 Agilent Technologies", "f": 2441.73, "l": -85.46},
      {"group": "softL", "label": "Freq/Channel", "f": 2520.13, "l": 45.03},
      {"group": "softTitle", "label": "Center Freq", "f": 2535.22, "l": 35.01},
      {"group": "softTitle", "label": "Start Freq", "f": 2535.07, "l": 17.49},
      {"group": "softTitle", "label": "Stop Freq", "f": 2535.61, "l": -0.04},
      {"group": "softTitle", "label": "CF Step", "f": 2536.54, "l": -15.21},
      {"group": "softTitle", "label": "Freq Offset", "f": 2534.91, "l": -35.24},
      {"group": "softTitle", "label": "Signal Track", "f": 2535.69, "l": -52.76},
      {"group": "softValue", "label": "2.48350000 GHz", "f": 2528.14, "l": 30.15},
      {"group": "softValue", "label": "2.44850000 GHz", "f": 2528.14, "l": 12.63},
      {"group": "softValue", "label": "2.51850000 GHz", "f": 2528.14, "l": -4.75},
      {"group": "softValue", "label": "7.00000000 MHz", "f": 2528.14, "l": -20.22},
      {"group": "softValue", "label": "0.00000000\u00a0 Hz", "f": 2528.14, "l": -40.1},
      {"group": "softOptL", "label": "Auto", "f": 2519.9, "l": -25.08},
      {"group": "softOptL", "label": "On", "f": 2519.98, "l": -57.62},
      {"group": "softOptR", "label": "Man", "f": 2537.32, "l": -25.08},
      {"group": "softOptR", "label": "Off", "f": 2536.47, "l": -57.62}
    ]
  },
  "layer": [
    {
      "data": {"name": "graticule_freq"},
      "mark": {"type": "rule", "color": "#7a7a7a", "strokeWidth": 2},
      "encoding": {
        "x": {"field": "freq_mhz", "type": "quantitative", "scale": {"domain": [2448.5, 2518.5], "nice": false, "zero": false}, "axis": null}
      }
    },
    {
      "data": {"name": "graticule_level"},
      "mark": {"type": "rule", "color": "#7a7a7a", "strokeWidth": 2},
      "encoding": {
        "y": {"field": "level_dbm", "type": "quantitative", "scale": {"domain": [-69.7, 30.3], "nice": false, "zero": false}, "axis": null}
      }
    },
    {
      "data": {"name": "boxes"},
      "transform": [{"filter": "datum.group === 'thick'"}],
      "mark": {"type": "rect", "fillOpacity": 0, "stroke": "black", "strokeWidth": 3},
      "encoding": {
        "x": {"field": "f1", "type": "quantitative", "scale": {"domain": [2448.5, 2518.5], "nice": false, "zero": false}, "axis": null},
        "x2": {"field": "f2"},
        "y": {"field": "l1", "type": "quantitative", "scale": {"domain": [-69.7, 30.3], "nice": false, "zero": false}, "axis": null},
        "y2": {"field": "l2"}
      }
    },
    {
      "data": {"name": "boxes"},
      "transform": [{"filter": "datum.group === 'thin'"}],
      "mark": {"type": "rect", "fillOpacity": 0, "stroke": "black", "strokeWidth": 2},
      "encoding": {
        "x": {"field": "f1", "type": "quantitative", "scale": {"domain": [2448.5, 2518.5], "nice": false, "zero": false}, "axis": null},
        "x2": {"field": "f2"},
        "y": {"field": "l1", "type": "quantitative", "scale": {"domain": [-69.7, 30.3], "nice": false, "zero": false}, "axis": null},
        "y2": {"field": "l2"}
      }
    },
    {
      "data": {"name": "lines"},
      "transform": [{"filter": "datum.group === 'frame'"}],
      "mark": {"type": "rule", "color": "black", "strokeWidth": 2},
      "encoding": {
        "x": {"field": "f1", "type": "quantitative", "scale": {"domain": [2448.5, 2518.5], "nice": false, "zero": false}, "axis": null},
        "x2": {"field": "f2"},
        "y": {"field": "l1", "type": "quantitative", "scale": {"domain": [-69.7, 30.3], "nice": false, "zero": false}, "axis": null},
        "y2": {"field": "l2"}
      }
    },
    {
      "data": {"name": "lines"},
      "transform": [{"filter": "datum.group === 'underline'"}],
      "mark": {"type": "rule", "color": "black", "strokeWidth": 1.5},
      "encoding": {
        "x": {"field": "f1", "type": "quantitative", "scale": {"domain": [2448.5, 2518.5], "nice": false, "zero": false}, "axis": null},
        "x2": {"field": "f2"},
        "y": {"field": "l1", "type": "quantitative", "scale": {"domain": [-69.7, 30.3], "nice": false, "zero": false}, "axis": null},
        "y2": {"field": "l2"}
      }
    },
    {
      "data": {"name": "display_line"},
      "mark": {"type": "rule", "color": "#22e022", "strokeWidth": 2},
      "encoding": {
        "y": {"field": "level_dbm", "type": "quantitative", "scale": {"domain": [-69.7, 30.3], "nice": false, "zero": false}, "axis": null}
      }
    },
    {
      "data": {"name": "trace"},
      "mark": {"type": "line", "color": "#00e600", "strokeWidth": 1.8},
      "encoding": {
        "x": {"field": "freq_mhz", "type": "quantitative", "scale": {"domain": [2448.5, 2518.5], "nice": false, "zero": false}, "axis": null},
        "y": {"field": "level_dbm", "type": "quantitative", "scale": {"domain": [-69.7, 30.3], "nice": false, "zero": false}, "axis": null}
      }
    },
    {
      "data": {"name": "marker"},
      "mark": {"type": "point", "shape": "diamond", "filled": false, "stroke": "black", "strokeWidth": 2, "size": 180, "opacity": 1},
      "encoding": {
        "x": {"field": "freq_mhz", "type": "quantitative", "scale": {"domain": [2448.5, 2518.5], "nice": false, "zero": false}, "axis": null},
        "y": {"field": "level_dbm", "type": "quantitative", "scale": {"domain": [-69.7, 30.3], "nice": false, "zero": false}, "axis": null}
      }
    },
    {
      "data": {"name": "marker"},
      "mark": {"type": "text", "color": "#c8c8c8", "fontSize": 14, "baseline": "middle", "align": "center", "dy": -31},
      "encoding": {
        "x": {"field": "freq_mhz", "type": "quantitative", "scale": {"domain": [2448.5, 2518.5], "nice": false, "zero": false}, "axis": null},
        "y": {"field": "level_dbm", "type": "quantitative", "scale": {"domain": [-69.7, 30.3], "nice": false, "zero": false}, "axis": null},
        "text": {"field": "label"}
      }
    },
    {
      "data": {"name": "texts"},
      "transform": [{"filter": "datum.group === 'title'"}],
      "mark": {"type": "text", "align": "left", "baseline": "middle", "fontSize": 29.3, "color": "black"},
      "encoding": {
        "x": {"field": "f", "type": "quantitative", "scale": {"domain": [2448.5, 2518.5], "nice": false, "zero": false}, "axis": null},
        "y": {"field": "l", "type": "quantitative", "scale": {"domain": [-69.7, 30.3], "nice": false, "zero": false}, "axis": null},
        "text": {"field": "label"}
      }
    },
    {
      "data": {"name": "texts"},
      "transform": [{"filter": "datum.group === 'brand'"}],
      "mark": {"type": "text", "align": "left", "baseline": "middle", "fontSize": 26, "color": "black"},
      "encoding": {
        "x": {"field": "f", "type": "quantitative", "scale": {"domain": [2448.5, 2518.5], "nice": false, "zero": false}, "axis": null},
        "y": {"field": "l", "type": "quantitative", "scale": {"domain": [-69.7, 30.3], "nice": false, "zero": false}, "axis": null},
        "text": {"field": "label"}
      }
    },
    {
      "data": {"name": "texts"},
      "transform": [{"filter": "datum.group === 'logo'"}],
      "mark": {"type": "text", "align": "center", "baseline": "middle", "fontSize": 30, "fontWeight": "bold", "color": "#3344ee", "font": "DejaVu Sans"},
      "encoding": {
        "x": {"field": "f", "type": "quantitative", "scale": {"domain": [2448.5, 2518.5], "nice": false, "zero": false}, "axis": null},
        "y": {"field": "l", "type": "quantitative", "scale": {"domain": [-69.7, 30.3], "nice": false, "zero": false}, "axis": null},
        "text": {"field": "label"}
      }
    },
    {
      "data": {"name": "texts"},
      "transform": [{"filter": "datum.group === 'rt'"}],
      "mark": {"type": "text", "align": "center", "baseline": "middle", "fontSize": 28, "color": "black"},
      "encoding": {
        "x": {"field": "f", "type": "quantitative", "scale": {"domain": [2448.5, 2518.5], "nice": false, "zero": false}, "axis": null},
        "y": {"field": "l", "type": "quantitative", "scale": {"domain": [-69.7, 30.3], "nice": false, "zero": false}, "axis": null},
        "text": {"field": "label"}
      }
    },
    {
      "data": {"name": "texts"},
      "transform": [{"filter": "datum.group === 'boldL'"}],
      "mark": {"type": "text", "align": "left", "baseline": "middle", "fontSize": 25, "fontWeight": "bold", "color": "black"},
      "encoding": {
        "x": {"field": "f", "type": "quantitative", "scale": {"domain": [2448.5, 2518.5], "nice": false, "zero": false}, "axis": null},
        "y": {"field": "l", "type": "quantitative", "scale": {"domain": [-69.7, 30.3], "nice": false, "zero": false}, "axis": null},
        "text": {"field": "label"}
      }
    },
    {
      "data": {"name": "texts"},
      "transform": [{"filter": "datum.group === 'boldR'"}],
      "mark": {"type": "text", "align": "right", "baseline": "middle", "fontSize": 25, "fontWeight": "bold", "color": "black"},
      "encoding": {
        "x": {"field": "f", "type": "quantitative", "scale": {"domain": [2448.5, 2518.5], "nice": false, "zero": false}, "axis": null},
        "y": {"field": "l", "type": "quantitative", "scale": {"domain": [-69.7, 30.3], "nice": false, "zero": false}, "axis": null},
        "text": {"field": "label"}
      }
    },
    {
      "data": {"name": "texts"},
      "transform": [{"filter": "datum.group === 'copyright'"}],
      "mark": {"type": "text", "align": "left", "baseline": "middle", "fontSize": 25.4, "color": "#00dd00"},
      "encoding": {
        "x": {"field": "f", "type": "quantitative", "scale": {"domain": [2448.5, 2518.5], "nice": false, "zero": false}, "axis": null},
        "y": {"field": "l", "type": "quantitative", "scale": {"domain": [-69.7, 30.3], "nice": false, "zero": false}, "axis": null},
        "text": {"field": "label"}
      }
    },
    {
      "data": {"name": "texts"},
      "transform": [{"filter": "datum.group === 'softL'"}],
      "mark": {"type": "text", "align": "left", "baseline": "middle", "fontSize": 30, "color": "black"},
      "encoding": {
        "x": {"field": "f", "type": "quantitative", "scale": {"domain": [2448.5, 2518.5], "nice": false, "zero": false}, "axis": null},
        "y": {"field": "l", "type": "quantitative", "scale": {"domain": [-69.7, 30.3], "nice": false, "zero": false}, "axis": null},
        "text": {"field": "label"}
      }
    },
    {
      "data": {"name": "texts"},
      "transform": [{"filter": "datum.group === 'softTitle'"}],
      "mark": {"type": "text", "align": "right", "baseline": "middle", "fontSize": 30, "color": "black"},
      "encoding": {
        "x": {"field": "f", "type": "quantitative", "scale": {"domain": [2448.5, 2518.5], "nice": false, "zero": false}, "axis": null},
        "y": {"field": "l", "type": "quantitative", "scale": {"domain": [-69.7, 30.3], "nice": false, "zero": false}, "axis": null},
        "text": {"field": "label"}
      }
    },
    {
      "data": {"name": "texts"},
      "transform": [{"filter": "datum.group === 'softValue'"}],
      "mark": {"type": "text", "align": "center", "baseline": "middle", "fontSize": 25, "color": "black"},
      "encoding": {
        "x": {"field": "f", "type": "quantitative", "scale": {"domain": [2448.5, 2518.5], "nice": false, "zero": false}, "axis": null},
        "y": {"field": "l", "type": "quantitative", "scale": {"domain": [-69.7, 30.3], "nice": false, "zero": false}, "axis": null},
        "text": {"field": "label"}
      }
    },
    {
      "data": {"name": "texts"},
      "transform": [{"filter": "datum.group === 'softOptL'"}],
      "mark": {"type": "text", "align": "left", "baseline": "middle", "fontSize": 25, "color": "black"},
      "encoding": {
        "x": {"field": "f", "type": "quantitative", "scale": {"domain": [2448.5, 2518.5], "nice": false, "zero": false}, "axis": null},
        "y": {"field": "l", "type": "quantitative", "scale": {"domain": [-69.7, 30.3], "nice": false, "zero": false}, "axis": null},
        "text": {"field": "label"}
      }
    },
    {
      "data": {"name": "texts"},
      "transform": [{"filter": "datum.group === 'softOptR'"}],
      "mark": {"type": "text", "align": "right", "baseline": "middle", "fontSize": 25, "color": "black"},
      "encoding": {
        "x": {"field": "f", "type": "quantitative", "scale": {"domain": [2448.5, 2518.5], "nice": false, "zero": false}, "axis": null},
        "y": {"field": "l", "type": "quantitative", "scale": {"domain": [-69.7, 30.3], "nice": false, "zero": false}, "axis": null},
        "text": {"field": "label"}
      }
    }
  ]
}
